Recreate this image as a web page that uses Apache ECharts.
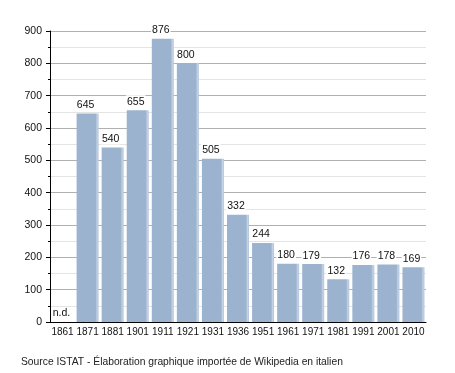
<!DOCTYPE html>
<html><head><meta charset="utf-8">
<script src="https://cdn.jsdelivr.net/npm/echarts@6/dist/echarts.min.js"></script>
<style>html,body{margin:0;padding:0;background:#fff}#c{width:455px;height:373px}</style>
</head><body><div id="c"></div>
<script>
var years = ['1861','1871','1881','1901','1911','1921','1931','1936','1951','1961','1971','1981','1991','2001','2010'];
var population = [null,645,540,655,876,800,505,332,244,180,179,132,176,178,169];
var yTicks = [0,100,200,300,400,500,600,700,800,900];
var sourceText = 'Source ISTAT - Élaboration graphique importée de Wikipedia en italien';

var font = 'Liberation Sans, Arial, sans-serif';
var barColor = {type:'linear',x:0,y:0,x2:1,y2:0,colorStops:[
  {offset:0,color:'#9cb3cf'},{offset:0.86,color:'#9cb3cf'},{offset:0.93,color:'#c2d1e3'},{offset:1,color:'#b4c6dc'}]};
var data = population.map(function(v){
  if (v === null) return {value:0, label:{formatter:'n.d.', offset:[-1,0]}};
  return v;
});
var chart = echarts.init(document.getElementById('c'), null, {renderer:'canvas'});
chart.setOption({
  animation:false,
  grid:{left:50,right:29,top:31,bottom:51},
  title:{text:sourceText,left:21,top:357,padding:0,textStyle:{fontFamily:font,fontSize:10.3,fontWeight:'normal',color:'#222'}},
  xAxis:{type:'category',data:years,
    axisLine:{lineStyle:{color:'#000',width:1}},axisTick:{show:false},
    axisLabel:{fontFamily:font,fontSize:10,color:'#111',margin:5,interval:0}},
  yAxis:{type:'value',min:yTicks[0],max:yTicks[yTicks.length-1],interval:100,
    axisLine:{show:true,lineStyle:{color:'#000'}},
    axisTick:{show:true,length:4,lineStyle:{color:'#000'}},
    minorTick:{show:true,splitNumber:2,length:2,lineStyle:{color:'#000'}},
    splitLine:{lineStyle:{color:'#b0b0b0'}},
    minorSplitLine:{show:true,lineStyle:{color:'#e4e4e4'}},
    axisLabel:{fontFamily:font,fontSize:10.5,color:'#111',margin:8}},
  series:[{type:'bar',data:data,barWidth:22,z:3,
    itemStyle:{color:barColor},
    label:{show:true,position:'top',distance:3,fontFamily:font,fontSize:10.5,color:'#111',
      backgroundColor:'#fff',padding:[1,1,0,1],offset:[-2,0]}}]
});
</script></body></html>
